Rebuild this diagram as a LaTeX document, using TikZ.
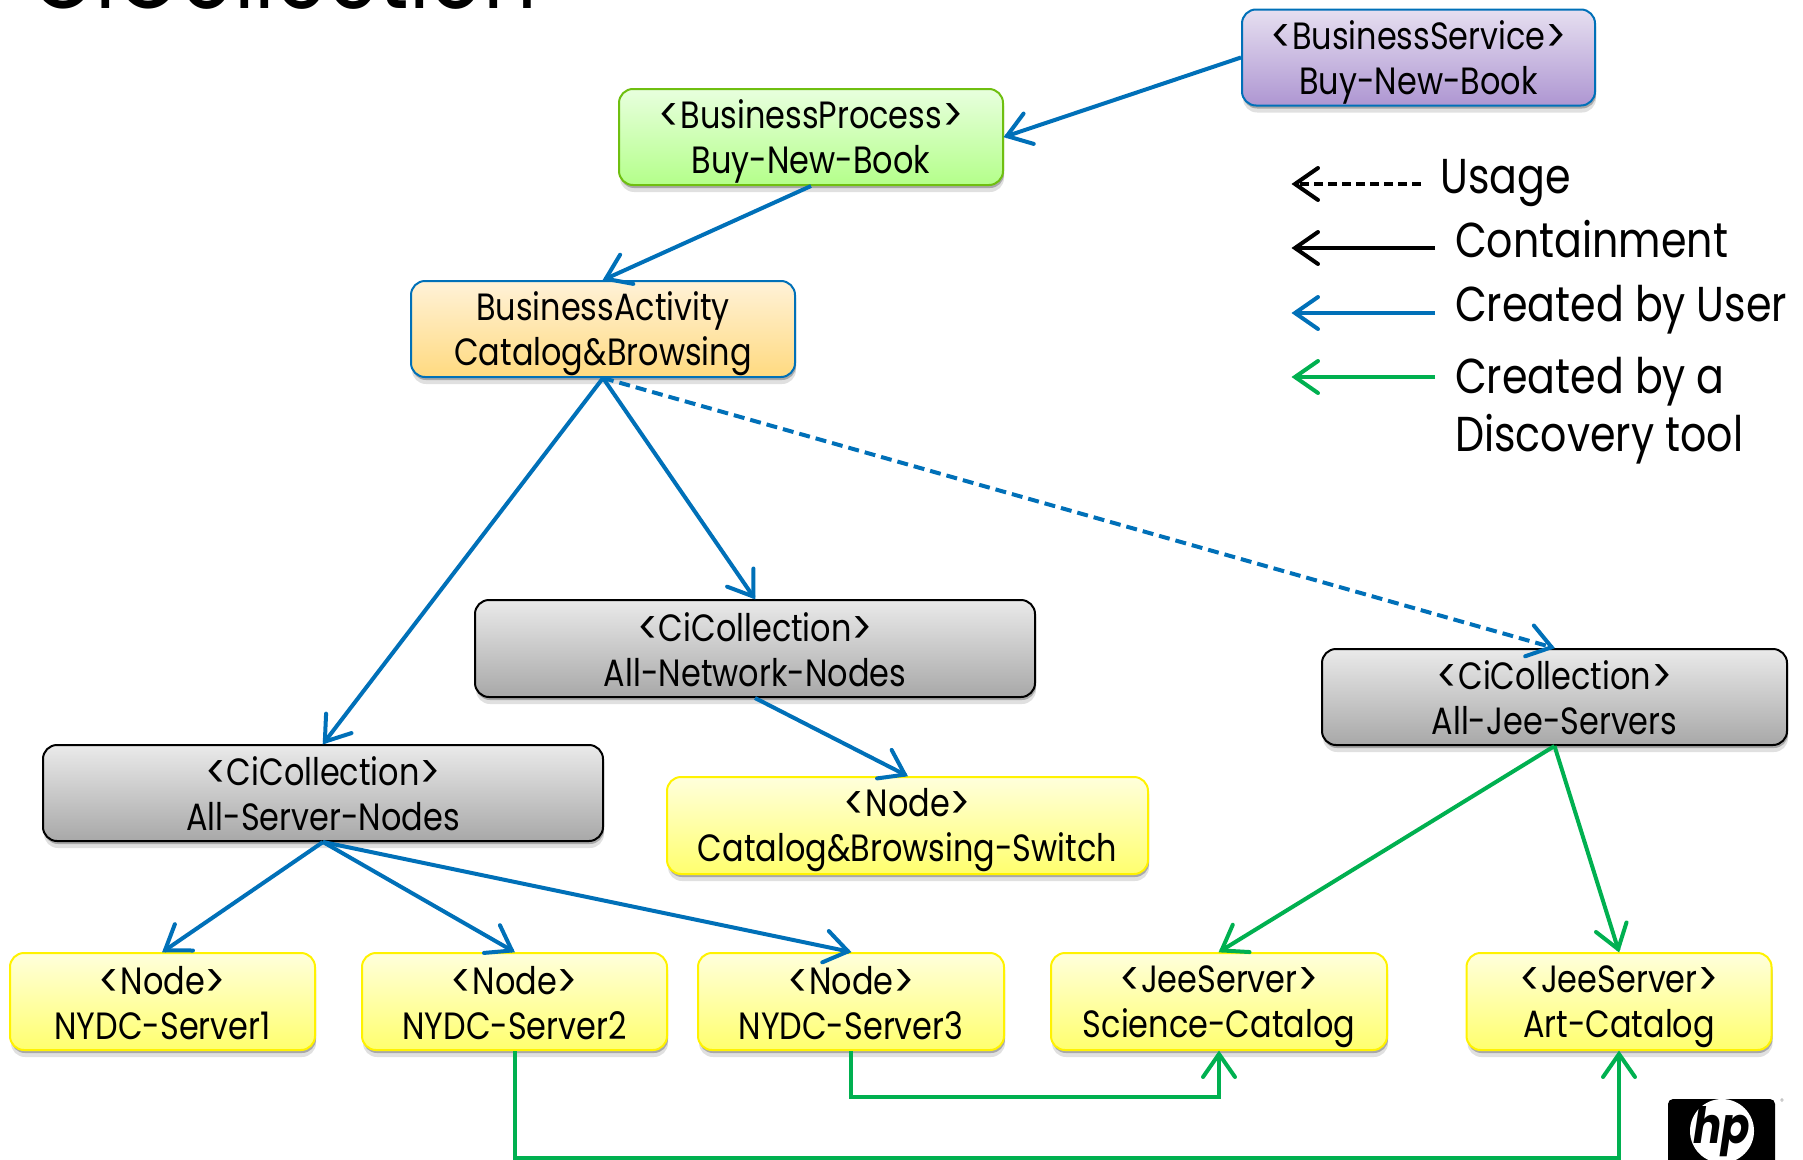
\documentclass[tikz,border=0pt]{standalone}
\usepackage{fontspec}
\setmainfont[FakeStretch=0.84]{Poppins}
\usetikzlibrary{arrows.meta,shadows,positioning}
\definecolor{ublue}{HTML}{0070B8}
\definecolor{ugreen}{HTML}{00B050}
\definecolor{purpleT}{HTML}{E6DFF0}
\definecolor{purpleB}{HTML}{AE96D2}
\definecolor{limeD}{HTML}{6FBF10}
\definecolor{limeT}{HTML}{E8FFDE}
\definecolor{limeB}{HTML}{B4FF8A}
\definecolor{orangeT}{HTML}{FFF2D8}
\definecolor{orangeB}{HTML}{FFDA80}
\definecolor{greyT}{HTML}{EAEAEA}
\definecolor{greyB}{HTML}{A8A8A8}
\definecolor{yellowT}{HTML}{FFFFDC}
\definecolor{yellowB}{HTML}{FFFF6E}
\pgfdeclarearrow{
  name=VBarb,
  setup code={
    \pgfarrowssettipend{0pt}
    \pgfarrowssetlineend{-2pt}
    \pgfarrowssetvisualbackend{-26pt}
    \pgfarrowssetbackend{-26pt}
    \pgfarrowshullpoint{-26pt}{16pt}
    \pgfarrowshullpoint{-26pt}{-16pt}
    \pgfarrowshullpoint{0pt}{0pt}
  },
  drawing code={
    \pgfsetdash{}{0pt}
    \pgfsetlinewidth{4pt}
    \pgfsetroundcap
    \pgfsetmiterjoin
    \pgfpathmoveto{\pgfqpoint{-26pt}{16pt}}
    \pgfpathlineto{\pgfqpoint{-3pt}{0pt}}
    \pgfpathlineto{\pgfqpoint{-26pt}{-16pt}}
    \pgfusepathqstroke
  }
}
\newcommand\lan{\raisebox{-3pt}{\fontsize{47}{45}\selectfont<}}
\newcommand\ran{\raisebox{-3pt}{\fontsize{47}{45}\selectfont>}}
\newcommand\twolines[2]{\rule{0pt}{38pt}#1\\#2\rule[-8pt]{0pt}{8pt}}
\tikzset{
  x=1pt,y=-1pt,
  boxbase/.style={draw,line width=2pt,rounded corners=14pt,inner sep=0pt,align=center,
    font=\fontsize{38}{45}\selectfont,
    drop shadow={shadow xshift=1pt,shadow yshift=-7pt,opacity=.12,fill=black},
    drop shadow={shadow xshift=1pt,shadow yshift=-3pt,opacity=.25,fill=black}},
  purplebox/.style={boxbase,draw=ublue,top color=purpleT,bottom color=purpleB},
  greenbox/.style={boxbase,draw=limeD,top color=limeT,bottom color=limeB},
  orangebox/.style={boxbase,draw=ublue,top color=orangeT,bottom color=orangeB},
  greybox/.style={boxbase,draw=black,top color=greyT,bottom color=greyB},
  yellowbox/.style={boxbase,draw=yellow,top color=yellowT,bottom color=yellowB},
  conn/.style={line width=4pt,-{VBarb}},
  bluec/.style={conn,draw=ublue},
  greenc/.style={conn,draw=ugreen},
  legendtext/.style={anchor=base west,inner sep=0pt,font=\fontsize{49}{55}\selectfont},
}
\begin{document}
\begin{tikzpicture}
\useasboundingbox (0,0) rectangle (1803,1159);
\begin{scope}
\clip (0,0) rectangle (1803,1159);
\node[anchor=base west,inner sep=0pt,font=\fontsize{100}{110}\selectfont] (title) at (30,9) {CiCollection};

\node[purplebox,minimum width=353pt,minimum height=96pt] (bs) at (1418.5,57.5) {\twolines{\lan BusinessService\ran}{Buy-New-Book}};
\node[greenbox,minimum width=384pt,minimum height=96pt] (bp) at (811,137) {\twolines{\lan BusinessProcess\ran}{Buy-New-Book}};
\node[orangebox,minimum width=384pt,minimum height=96pt] (ba) at (603,329) {\twolines{BusinessActivity}{Catalog\&Browsing}};
\node[greybox,minimum width=560pt,minimum height=97pt] (net) at (755,648.5) {\twolines{\lan CiCollection\ran}{All-Network-Nodes}};
\node[greybox,minimum width=465pt,minimum height=96pt] (jee) at (1554.5,697) {\twolines{\lan CiCollection\ran}{All-Jee-Servers}};
\node[greybox,minimum width=560pt,minimum height=96pt] (srv) at (323,793) {\twolines{\lan CiCollection\ran}{All-Server-Nodes}};
\node[yellowbox,minimum width=481pt,minimum height=97pt] (sw) at (907.5,825.5) {\twolines{\lan Node\ran}{Catalog\&Browsing-Switch}};
\node[yellowbox,minimum width=305pt,minimum height=97pt] (n1) at (162.5,1001.5) {\twolines{\lan Node\ran}{NYDC-Server1}};
\node[yellowbox,minimum width=305pt,minimum height=97pt] (n2) at (514.5,1001.5) {\twolines{\lan Node\ran}{NYDC-Server2}};
\node[yellowbox,minimum width=306pt,minimum height=97pt] (n3) at (851,1001.5) {\twolines{\lan Node\ran}{NYDC-Server3}};
\node[yellowbox,minimum width=336pt,minimum height=97pt] (sc) at (1219,1001.5) {\twolines{\lan JeeServer\ran}{Science-Catalog}};
\node[yellowbox,minimum width=305pt,minimum height=97pt] (art) at (1619,1001.5) {\twolines{\lan JeeServer\ran}{Art-Catalog}};

\draw[bluec] (bs.west) -- (bp.east);
\draw[bluec] (bp.south) -- (ba.north);
\draw[bluec] (ba.south) -- (srv.north);
\draw[bluec] (ba.south) -- (net.north);
\draw[bluec,dash pattern=on 11pt off 6pt] (ba.south) -- (jee.north);
\draw[bluec] (net.south) -- (sw.north);
\draw[bluec] (srv.south) -- (n1.north);
\draw[bluec] (srv.south) -- (n2.north);
\draw[bluec] (srv.south) -- (n3.north);
\draw[greenc] (jee.south) -- (sc.north);
\draw[greenc] (jee.south) -- (art.north);
\coordinate (j1) at (851,1097);
\coordinate (j2) at (514.5,1158);
\draw[greenc] (n3.south) -- (j1) -| (sc.south);
\draw[greenc] (n2.south) -- (j2) -| (art.south);

% legend
\coordinate (l1a) at (1421,184); \coordinate (l1b) at (1292,184);
\coordinate (l2a) at (1435,248); \coordinate (l2b) at (1292,248);
\coordinate (l3a) at (1435,313); \coordinate (l3b) at (1292,313);
\coordinate (l4a) at (1435,377); \coordinate (l4b) at (1292,377);
\draw[conn,dash pattern=on 9pt off 5pt] (l1a) -- (l1b);
\draw[conn] (l2a) -- (l2b);
\draw[bluec] (l3a) -- (l3b);
\draw[greenc] (l4a) -- (l4b);
\node[legendtext] (t1) at (1440,193) {Usage};
\node[legendtext] (t2) at (1455,257) {Containment};
\node[legendtext] (t3) at (1455,321) {Created by User};
\node[legendtext] (t4) at (1455,393) {Created by a};
\node[legendtext] (t5) at (1455,451) {Discovery tool};

% hp logo
\fill[black,rounded corners=5pt] (1668,1099) rectangle (1775,1175);
\fill[white] (1722,1131) circle (32pt);
\node[inner sep=0pt,text=black,font=\fontsize{50}{52}\selectfont\bfseries\itshape] (hp) at (1722,1132) {hp};
\node[inner sep=0pt,text=gray,font=\fontsize{8}{8}\selectfont] (reg) at (1782,1102) {®};
\end{scope}
\end{tikzpicture}
\end{document}
